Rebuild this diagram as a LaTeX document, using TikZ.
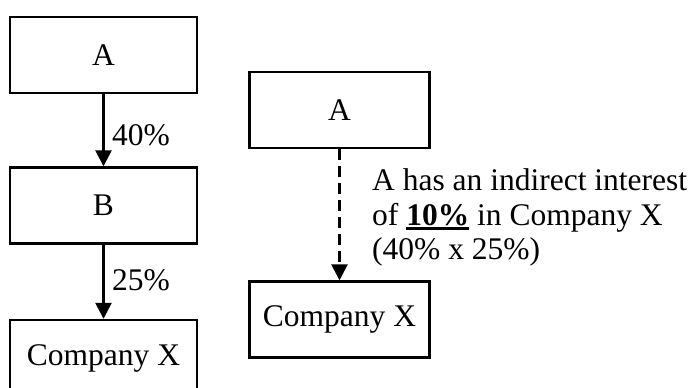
\documentclass[tikz,border=0pt]{standalone}
\usepackage{fontspec}
\setmainfont{Liberation Serif}
\usetikzlibrary{arrows.meta}
\newcommand{\thickul}[1]{\setbox0\hbox{#1}\rlap{\rule[-5pt]{\wd0}{3pt}}\box0\relax}
\begin{document}
\begin{tikzpicture}[x=1pt,y=-1pt,
  txt/.style={font=\fontsize{31.5}{34.5}\selectfont, inner sep=0pt},
  box/.style={txt, draw, line width=2.4pt, minimum height=76pt},
  lbox/.style={box, minimum width=187pt},
  rbox/.style={box, minimum width=180pt},
  arr/.style={line width=2.6pt, -{Triangle[length=16pt,width=16pt]}},
  darr/.style={arr, dash pattern=on 11pt off 6pt}]
\useasboundingbox (0,0) rectangle (691,388);
% left chain
\node[lbox] (la) at (103.5,55) {A};
\node[lbox] (lb) at (103.5,205.5) {B};
\node[lbox] (lx) at (103.5,358) {Company X};
\draw[arr] (la) -- (lb);
\draw[arr] (lb) -- (lx);
\node[txt, anchor=west] (p1) at (112,135) {40\%};
\node[txt, anchor=west] (p2) at (112,280) {25\%};
% right chain
\node[rbox] (ra) at (339.5,110) {A};
\node[rbox] (rx) at (339.5,319.5) {Company X};
\draw[darr] (ra) -- (rx);
\node[txt, anchor=base west] (t1) at (372,190.5) {A has an indirect interest};
\node[txt, anchor=base west] (t2) at (372,225) {of \thickul{\textbf{10\%}} in Company X};
\node[txt, anchor=base west] (t3) at (372,259.5) {(40\% x 25\%)};
\end{tikzpicture}
\end{document}
